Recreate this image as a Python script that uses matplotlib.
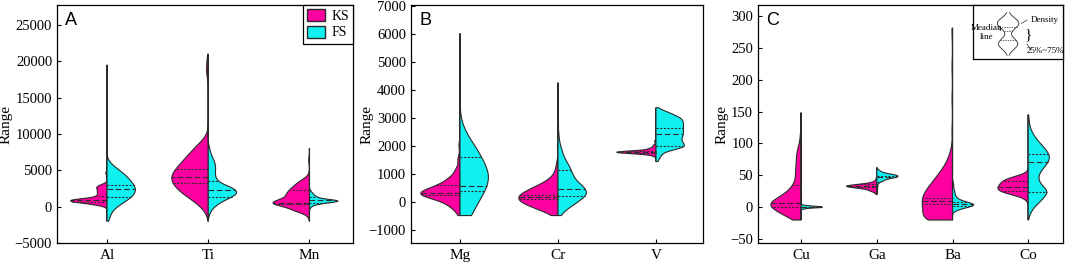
import numpy as np
import matplotlib
matplotlib.use("Agg")
import matplotlib.pyplot as plt
from matplotlib.patches import Patch

plt.rcParams['font.family'] = ['Liberation Serif', 'DejaVu Serif']
plt.rcParams['font.size'] = 10

KS_COLOR = '#FF00A0'
FS_COLOR = '#10F0F0'
EDGE = '#2a2a2a'

# ---------------- data (values, weights) ----------------
# panel A
a_labels = ['Al', 'Ti', 'Mn']
a_ranges = [(-2000, 19500), (-2000, 21000), (-2000, 8000)]
al_ks = ([300, 650, 950, 1500, 2000, 2500, 2900, 4600], [2, 5, 6, 2, 2, 2, 1.5, 0.3])
al_fs = ([-1800, -1100, -400, 300, 1000, 1700, 2400, 3100, 3800, 4500, 5200, 5900, 9500, 15500, 19300],
         [0.08, 0.12, 0.2, 0.45, 0.75, 0.95, 1.0, 0.9, 0.75, 0.6, 0.35, 0.12, 0.02, 0.03, 0.01])
ti_ks = ([-600, 300, 1200, 2100, 3000, 3900, 4800, 5700, 6600, 7500, 8400, 9300, 18500, 20000],
         [0.08, 0.25, 0.5, 0.75, 0.9, 1.0, 0.9, 0.75, 0.6, 0.45, 0.3, 0.1, 0.08, 0.06])
ti_fs = ([-1000, -300, 400, 1100, 1700, 2300, 2900, 3600, 4300, 5000, 5700, 6400, 7200, 8000],
         [0.04, 0.12, 0.3, 0.55, 0.75, 0.8, 0.45, 0.25, 0.2, 0.22, 0.22, 0.18, 0.1, 0.05])
mn_ks = ([-1200, -500, 200, 600, 1100, 1700, 2300, 2900, 3500, 4100, 6400],
         [0.05, 0.5, 0.7, 0.8, 0.55, 0.6, 0.5, 0.38, 0.25, 0.06, 0.03])
mn_fs = ([0, 400, 700, 900, 1300, 1700, 2100], [0.1, 0.4, 1, 0.8, 0.35, 0.2, 0.08])
a_ks = [al_ks, ti_ks, mn_ks]
a_fs = [al_fs, ti_fs, mn_fs]
a_ks_bw = [250, 800, 400]
a_fs_bw = [600, 500, 200]
a_ks_q = [(700, 850, 1450), (3320, 4100, 5150), (300, 480, 2300)]
a_fs_q = [(1350, 2400, 3000), (1350, 2310, 3550), (500, 850, 1350)]

# panel B
b_labels = ['Mg', 'Cr', 'V']
b_ranges = [(-500, 6000), (-500, 4240), (1430, 3350)]
mg_ks = ([-350, -100, 150, 330, 550, 800, 1100, 1500, 2000, 2700],
         [0.12, 0.35, 0.75, 1, 0.6, 0.35, 0.16, 0.08, 0.04, 0.02])
mg_fs = ([-600, -100, 400, 900, 1400, 1900, 2400, 2900, 4500, 5900],
         [0.35, 0.55, 0.85, 1, 0.8, 0.55, 0.22, 0.03, 0.01, 0.01])
cr_ks = ([-350, -100, 150, 400, 650, 950, 1300, 2000, 3000, 4000],
         [0.3, 0.8, 1, 0.7, 0.35, 0.12, 0.05, 0.02, 0.015, 0.015])
cr_fs = ([-400, -100, 200, 450, 700, 1000, 1300, 1600, 1900, 2300, 2800],
         [0.1, 0.45, 0.75, 0.65, 0.45, 0.4, 0.3, 0.15, 0.1, 0.04, 0.02])
v_ks = ([1620, 1700, 1760, 1820, 1900, 2000, 2150], [0.05, 0.3, 1, 0.3, 0.15, 0.08, 0.04])
v_fs = ([1500, 1700, 1950, 2150, 2350, 2550, 2750, 2950, 3150], [0.05, 0.1, 0.55, 0.4, 0.45, 0.45, 0.45, 0.45, 0.25])
b_ks = [mg_ks, cr_ks, v_ks]
b_fs = [mg_fs, cr_fs, v_fs]
b_ks_bw = [150, 180, 40]
b_fs_bw = [350, 200, 120]
b_ks_q = [(250, 300, 575), (85, 150, 230), (1720, 1760, 1800)]
b_fs_q = [(370, 560, 1590), (200, 455, 1140), (1970, 2415, 2630)]

# panel C
c_labels = ['Cu', 'Ga', 'Ba', 'Co']
c_ranges = [(-20, 148), (20, 62), (-20, 281), (-20, 145)]
cu_ks = ([-15, -5, 5, 15, 25, 35, 45, 55, 65, 75, 85, 95, 110, 130, 145],
         [0.4, 0.7, 1, 0.6, 0.35, 0.2, 0.15, 0.15, 0.14, 0.13, 0.12, 0.08, 0.04, 0.02, 0.02])
cu_fs = ([-2, 0, 1.5, 3], [0.2, 1, 0.5, 0.1])
ga_ks = ([22, 26, 30, 33, 36, 40, 45], [0.05, 0.25, 0.5, 1, 0.45, 0.1, 0.03])
ga_fs = ([23, 28, 33, 38, 42, 46, 49, 52, 56, 60], [0.02, 0.04, 0.06, 0.1, 0.35, 0.7, 0.9, 0.55, 0.2, 0.04])
ba_ks = ([-20, -10, 0, 10, 20, 30, 40, 50, 60, 70, 80, 90, 120, 170, 220, 275],
         [1.2, 0.8, 0.9, 0.95, 0.9, 0.75, 0.6, 0.45, 0.3, 0.18, 0.1, 0.05, 0.03, 0.03, 0.03, 0.03])
ba_fs = ([-6, -2, 2, 5, 9, 14, 20, 26, 33, 38], [0.1, 0.5, 0.9, 1, 0.6, 0.3, 0.2, 0.15, 0.08, 0.06])
co_ks = ([12, 17, 22, 27, 32, 37, 42, 47, 52], [0.05, 0.2, 0.55, 0.75, 0.7, 0.65, 0.6, 0.4, 0.08])
co_fs = ([-10, 0, 10, 20, 28, 38, 48, 58, 68, 78, 88, 98, 108, 118, 130, 140],
         [0.05, 0.15, 0.35, 0.45, 0.45, 0.3, 0.25, 0.35, 0.5, 0.6, 0.5, 0.35, 0.2, 0.1, 0.04, 0.02])
c_ks = [cu_ks, ga_ks, ba_ks, co_ks]
c_fs = [cu_fs, ga_fs, ba_fs, co_fs]
c_ks_bw = [8, 2, 10, 4]
c_fs_bw = [1.0, 2, 3, 7]
c_ks_q = [(1, 6, 34.5), (31, 33, 36), (5, 10, 14), (25.3, 31.4, 40.7)]
c_fs_q = [(0, 0.5, 1), (40, 47, 49), (2, 5, 8), (24, 70.5, 83)]


def kde(y, vals, wts, bw):
    v = np.asarray(vals, float)[:, None]
    w = np.asarray(wts, float)[:, None]
    return (w * np.exp(-0.5 * ((y[None, :] - v) / bw) ** 2)).sum(axis=0)


def half_violin(ax, pos, data, bw, yr, quart, side, width, color):
    vals, wts = data
    y = np.linspace(yr[0], yr[1], 600)
    d = kde(y, vals, wts, bw)
    scale = width / d.max()
    xs = np.concatenate([pos + side * d * scale, [pos, pos]])
    ys = np.concatenate([y, [yr[1], yr[0]]])
    ax.fill(xs, ys, facecolor=color, edgecolor=EDGE, lw=0.8, zorder=2)
    for k, q in enumerate(quart):
        wq = kde(np.array([q]), vals, wts, bw)[0] * scale
        ls = (0, (5, 2.5)) if k == 1 else (0, (1.8, 1.5))
        ax.plot([pos, pos + side * wq], [q, q], color=EDGE, lw=0.8, ls=ls, zorder=3)


def panel(ax, labels, ranges, ks, fs, ks_bw, fs_bw, ks_q, fs_q, ks_w, fs_w, label_x):
    pos = np.arange(1, len(labels) + 1)
    for i in range(len(labels)):
        half_violin(ax, pos[i], ks[i], ks_bw[i], ranges[i], ks_q[i], -1, ks_w, KS_COLOR)
        half_violin(ax, pos[i], fs[i], fs_bw[i], ranges[i], fs_q[i], 1, fs_w, FS_COLOR)
    ax.set_xticks(pos)
    ax.set_xticklabels(labels)
    ax.tick_params(direction='in', length=3, width=0.8, labelsize=10.5)
    ax.tick_params(axis='x', pad=4, labelsize=11)
    ax.set_ylabel('Range', fontsize=11)
    ax.yaxis.set_label_coords(label_x, 0.5)
    for s in ax.spines.values():
        s.set_linewidth(0.9)


fig = plt.figure(figsize=(10.65, 2.62), dpi=100)
H = 262.0
W = 1065.0
ax_a = fig.add_axes([57 / W, (H - 243) / H, 296 / W, 238 / H])
ax_b = fig.add_axes([411 / W, (H - 243) / H, 292 / W, 238 / H])
ax_c = fig.add_axes([758 / W, (H - 243) / H, 305 / W, 238 / H])

panel(ax_a, a_labels, a_ranges, a_ks, a_fs, a_ks_bw, a_fs_bw, a_ks_q, a_fs_q, 0.36, 0.28,
      (13 - 57) / 296)
ax_a.set_xlim(0.506, 3.43)
ax_a.set_ylim(-5000, 27750)
ax_a.set_yticks(np.arange(-5000, 25001, 5000))

panel(ax_b, b_labels, b_ranges, b_ks, b_fs, b_ks_bw, b_fs_bw, b_ks_q, b_fs_q, 0.40, 0.29,
      (374 - 411) / 292)
ax_b.set_xlim(0.5, 3.48)
ax_b.set_ylim(-1480, 7020)
ax_b.set_yticks(np.arange(-1000, 7001, 1000))

panel(ax_c, c_labels, c_ranges, c_ks, c_fs, c_ks_bw, c_fs_bw, c_ks_q, c_fs_q, 0.40, 0.28,
      (729 - 758) / 305)
ax_c.set_xlim(0.43, 4.46)
ax_c.set_ylim(-56, 317)
ax_c.set_yticks(np.arange(-50, 301, 50))

for ax, letter in zip([ax_a, ax_b, ax_c], 'ABC'):
    ax.text(0.028, 0.97, letter, transform=ax.transAxes, ha='left', va='top',
            fontsize=13, family=['Liberation Sans', 'DejaVu Sans'])

# legend in panel A
handles = [Patch(facecolor=KS_COLOR, edgecolor=EDGE, label='KS'),
           Patch(facecolor=FS_COLOR, edgecolor=EDGE, label='FS')]
leg = ax_a.legend(handles=handles, loc='upper right', borderaxespad=0, fancybox=False,
                  edgecolor='black', framealpha=1, fontsize=10, handlelength=1.3,
                  handleheight=0.95, handletextpad=0.45, labelspacing=0.2, borderpad=0.3)
leg.get_frame().set_linewidth(0.9)

# key box in panel C
key = ax_c.inset_axes([0.705, 0.773, 0.295, 0.227])
key.set_xlim(0, 1)
key.set_ylim(0, 1)
key.set_xticks([])
key.set_yticks([])
for s in key.spines.values():
    s.set_linewidth(0.9)
key_vals = [0.28, 0.66]
key_wts = [0.9, 1.0]
ky = np.linspace(0.07, 0.86, 200)
kd_all = kde(ky, key_vals, key_wts, 0.1)
kmax = kd_all.max()
key.plot(0.39 + 0.12 * kd_all / kmax, ky, color=EDGE, lw=0.6)
key.plot(0.39 - 0.12 * kd_all / kmax, ky, color=EDGE, lw=0.6)
for q in [0.35, 0.51, 0.6]:
    wq = 0.12 * kde(np.array([q]), key_vals, key_wts, 0.1)[0] / kmax
    key.plot([0.39 - wq, 0.39 + wq], [q, q], color=EDGE, lw=0.5, ls=(0, (2, 1.5)))
key.text(0.15, 0.58, 'Meadian', fontsize=6.5, ha='center', va='center')
key.text(0.15, 0.40, 'line', fontsize=6.5, ha='center', va='center')
key.plot([0.29, 0.31], [0.56, 0.53], color=EDGE, lw=0.5)
key.text(0.80, 0.72, 'Density', fontsize=6.5, ha='center', va='center')
key.plot([0.54, 0.6], [0.66, 0.72], color=EDGE, lw=0.5)
key.text(0.61, 0.44, '}', fontsize=11, ha='center', va='center')
key.text(0.80, 0.14, '25%~75%', fontsize=6.5, ha='center', va='center')
key.plot([0.6, 0.64], [0.28, 0.17], color=EDGE, lw=0.5)

fig.savefig('out.png', dpi=100)
